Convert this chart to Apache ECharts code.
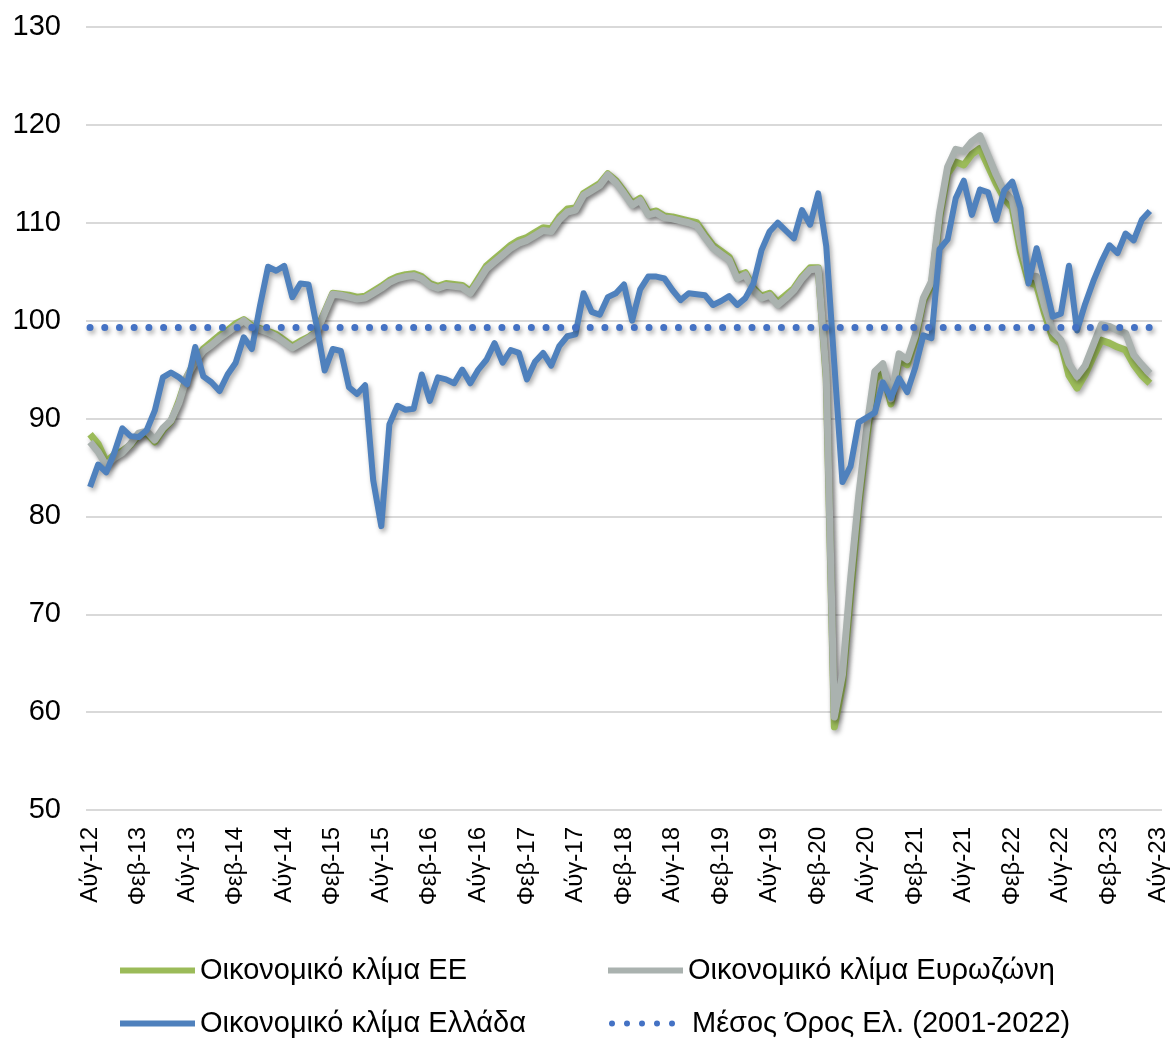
<!DOCTYPE html>
<html>
	<head>
		<meta charset="utf-8">
		<title>Οικονομικό κλίμα</title>
		<script src="https://cdn.jsdelivr.net/npm/echarts@6/dist/echarts.min.js"></script>
	</head>
	<body style="margin:0; background:#fff">
		<div id="container" style="width:1173px; height:1040px;"></div>
		<script type="text/javascript">
			// μήνες Αύγ-12 ... Αύγ-23 (ο τελευταίος χωρίς τιμές)
			var monthNames = ['Ιαν', 'Φεβ', 'Μάρ', 'Απρ', 'Μάι', 'Ιούν', 'Ιούλ', 'Αύγ', 'Σεπ', 'Οκτ', 'Νοέ', 'Δεκ'];
			var categories = [];
			for (var i = 0; i < 133; i++) {
				var m = (7 + i) % 12;
				var y = 12 + Math.floor((7 + i) / 12);
				categories.push(monthNames[m] + '-' + y);
			}

			var yTicks = [50, 60, 70, 80, 90, 100, 110, 120, 130];

			// Οικονομικό κλίμα ΕΕ
			var euData = [
				88.4, 87.4, 85.6, 86.3, 86.7, 87.3, 88.3, 88.5, 87.6, 88.8, 89.7, 91.8,
				94.3, 95.9, 97.1, 97.8, 98.5, 99.0, 99.7, 100.1, 99.5, 99.2, 98.9, 98.6,
				98.0, 97.4, 97.9, 98.3, 98.9, 100.9, 102.8, 102.7, 102.6, 102.4, 102.5, 103.0,
				103.5, 104.1, 104.5, 104.7, 104.8, 104.5, 103.8, 103.5, 103.8, 103.7, 103.6, 103.0,
				104.3, 105.6, 106.3, 107.0, 107.7, 108.2, 108.5, 109.0, 109.5, 109.4, 110.6, 111.4,
				111.5, 113.0, 113.5, 114.0, 115.0, 114.3, 113.2, 112.0, 112.5, 111.0, 111.2, 110.7,
				110.6, 110.4, 110.2, 110.0, 108.8, 107.7, 107.1, 106.5, 104.6, 104.9, 103.3, 102.5,
				102.8, 101.9, 102.6, 103.3, 104.5, 105.4, 105.4, 94.0, 58.5, 62.8, 72.0, 81.0,
				88.0, 94.0, 94.8, 91.5, 96.0, 95.5, 98.0, 102.0, 103.6, 110.5, 115.0, 116.2,
				115.9, 117.0, 117.6, 115.8, 114.0, 112.5, 111.5, 107.0, 104.0, 103.6, 100.7, 98.2,
				97.7, 94.4, 93.1, 94.5, 96.3, 98.0, 97.7, 97.3, 97.0, 95.5, 94.4, 93.6
			];

			// Οικονομικό κλίμα Ευρωζώνη
			var ezData = [
				87.6, 86.6, 85.2, 86.0, 86.5, 87.4, 88.5, 88.7, 87.8, 89.0, 89.8, 91.6,
				94.3, 95.8, 96.9, 97.5, 98.2, 98.8, 99.4, 100.0, 99.3, 99.1, 98.8, 98.4,
				97.8, 97.2, 97.7, 98.2, 98.8, 100.8, 102.7, 102.6, 102.4, 102.2, 102.3, 102.8,
				103.3, 103.9, 104.3, 104.5, 104.6, 104.3, 103.6, 103.3, 103.6, 103.5, 103.4, 102.8,
				104.0, 105.3, 106.0, 106.7, 107.4, 107.9, 108.2, 108.7, 109.2, 109.1, 110.3, 111.1,
				111.3, 112.8, 113.3, 113.8, 114.9, 114.1, 113.0, 111.8, 112.3, 110.8, 111.0, 110.5,
				110.4, 110.2, 110.0, 109.7, 108.5, 107.4, 106.8, 106.2, 104.3, 104.7, 103.1, 102.3,
				102.6, 101.6, 102.3, 103.1, 104.3, 105.2, 105.3, 94.5, 59.5, 63.8, 73.5, 82.0,
				89.0, 94.8, 95.6, 92.0, 96.6, 96.0, 98.5, 102.3, 104.0, 111.0, 115.7, 117.5,
				117.3, 118.3, 118.9, 116.9, 114.9, 113.2, 112.3, 107.9, 104.6, 104.5, 101.4, 98.9,
				98.0, 95.6, 94.3, 95.4, 97.5, 99.6, 99.4, 99.0, 98.7, 96.5, 95.5, 94.6
			];

			// Οικονομικό κλίμα Ελλάδα
			var grData = [
				83.0, 85.3, 84.5, 86.5, 89.0, 88.2, 88.1, 88.8, 90.8, 94.2, 94.7, 94.2,
				93.5, 97.3, 94.3, 93.7, 92.8, 94.5, 95.7, 98.3, 97.1, 101.5, 105.5, 105.1,
				105.6, 102.4, 103.8, 103.7, 99.5, 94.9, 97.1, 96.9, 93.2, 92.5, 93.4, 83.7,
				79.0, 89.4, 91.3, 90.9, 91.0, 94.5, 91.8, 94.2, 94.0, 93.6, 95.0, 93.6,
				95.0, 96.0, 97.7, 95.7, 97.0, 96.7, 94.0, 95.8, 96.7, 95.4, 97.4, 98.4,
				98.6, 102.8, 100.9, 100.6, 102.4, 102.8, 103.7, 100.0, 103.2, 104.5, 104.5, 104.3,
				103.1, 102.1, 102.8, 102.7, 102.6, 101.6, 102.0, 102.5, 101.6, 102.3, 103.8, 107.2,
				109.1, 110.0, 109.2, 108.4, 111.3, 109.8, 113.0, 107.6, 95.5, 83.5, 85.1, 89.6,
				90.1, 90.6, 93.7, 92.1, 94.1, 92.7, 95.2, 98.5, 98.2, 107.3, 108.3, 112.5,
				114.3, 110.8, 113.4, 113.1, 110.3, 113.3, 114.2, 111.5, 103.8, 107.4, 104.0, 100.4,
				100.7, 105.6, 99.0, 101.7, 104.0, 106.0, 107.7, 106.9, 108.9, 108.2, 110.3, 111.2
			];

			// Μέσος Όρος Ελλάδας 2001-2022
			var grMean = 99.3;
			var meanData = grData.map(function () { return grMean; });

			var names = ['Οικονομικό κλίμα ΕΕ', 'Οικονομικό κλίμα Ευρωζώνη', 'Οικονομικό κλίμα Ελλάδα', 'Μέσος Όρος Ελ. (2001-2022)'];

			var fontFamily = '"Liberation Sans", Arial, sans-serif';
			var shadow = {
				shadowColor: 'rgba(0, 0, 0, 0.35)',
				shadowBlur: 5,
				shadowOffsetX: 2,
				shadowOffsetY: 3
			};

			// πέντε τελείες για το υπόμνημα του μέσου όρου
			var dotsIcon = 'path://M0,3a3,3 0 1,0 6,0a3,3 0 1,0 -6,0z' +
				'M15,3a3,3 0 1,0 6,0a3,3 0 1,0 -6,0z' +
				'M30,3a3,3 0 1,0 6,0a3,3 0 1,0 -6,0z' +
				'M45,3a3,3 0 1,0 6,0a3,3 0 1,0 -6,0z' +
				'M60,3a3,3 0 1,0 6,0a3,3 0 1,0 -6,0z';

			function legendAt(name, icon, w, left, top, padLeft) {
				return {
					data: [{ name: name, icon: icon }],
					left: left,
					top: top,
					itemWidth: w,
					itemHeight: 6,
					selectedMode: false,
					textStyle: { fontFamily: fontFamily, fontSize: 29, color: '#000', padding: [0, 0, 0, padLeft] }
				};
			}

			var option = {
				animation: false,
				grid: { left: 86, right: 11, top: 27, bottom: 230 },
				legend: [
					legendAt(names[0], 'rect', 75, 115, 951, 0),
					legendAt(names[1], 'rect', 75, 603, 951, 0),
					legendAt(names[2], 'rect', 75, 115, 1004, 0),
					legendAt(names[3], dotsIcon, 66, 604, 1004, 12)
				],
				xAxis: {
					type: 'category',
					data: categories,
					boundaryGap: true,
					axisLine: { show: false },
					axisTick: { show: false },
					axisLabel: {
						interval: 5,
						rotate: 90,
						margin: 17,
						fontFamily: fontFamily,
						fontSize: 24,
						color: '#000'
					}
				},
				yAxis: {
					type: 'value',
					min: yTicks[0],
					max: yTicks[yTicks.length - 1],
					interval: 10,
					axisLine: { show: false },
					axisTick: { show: false },
					axisLabel: {
						margin: 25,
						fontFamily: fontFamily,
						fontSize: 29,
						color: '#000'
					},
					splitLine: { lineStyle: { color: '#d9d9d9', width: 2 } }
				},
				series: [
					{
						name: names[0],
						type: 'line',
						data: euData,
						symbol: 'none',
						itemStyle: { color: '#9bbb59' },
						lineStyle: Object.assign({ color: '#9bbb59', width: 7, join: 'round' }, shadow)
					},
					{
						name: names[1],
						type: 'line',
						data: ezData,
						symbol: 'none',
						itemStyle: { color: '#aab2af' },
						lineStyle: Object.assign({ color: '#aab2af', width: 7, join: 'round' }, shadow)
					},
					{
						name: names[2],
						type: 'line',
						data: grData,
						symbol: 'none',
						itemStyle: { color: '#4f81bd' },
						lineStyle: Object.assign({ color: '#4f81bd', width: 6, join: 'round' }, shadow)
					},
					{
						name: names[3],
						type: 'line',
						data: meanData,
						symbol: 'none',
						itemStyle: { color: '#4472c4' },
						lineStyle: Object.assign({ color: '#4472c4', width: 7, type: [0.01, 14.7], cap: 'round' }, shadow)
					}
				]
			};

			var myChart = echarts.init(document.getElementById('container'));
			myChart.setOption(option);
		</script>
	</body>
</html>
